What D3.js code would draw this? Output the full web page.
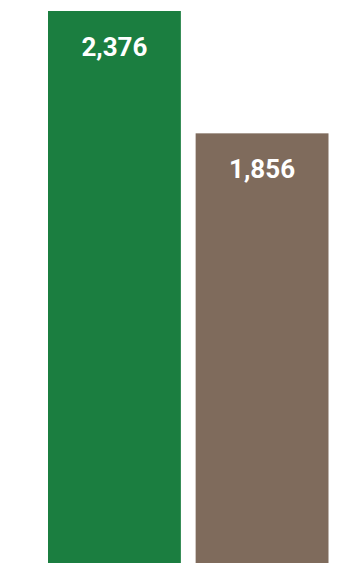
<!DOCTYPE html>
<html>
<head>
<meta charset="utf-8">
<script src="https://cdn.jsdelivr.net/npm/d3@7"></script>
<style>
html,body{margin:0;padding:0;background:#fff;overflow:hidden;}
svg{display:block;}
</style>
</head>
<body>
<svg id="chart" width="361" height="563"></svg>
<script>
const categories = ["A", "B"];
const values = [2376, 1856];
const colors = ["#1b7e40", "#7f6b5c"];

const svg = d3.select("#chart");
const x = d3.scaleBand().domain(categories).range([48, 328.5]).paddingInner(0.1).paddingOuter(0);
const y = d3.scaleLinear().domain([0, 2376]).range([570, 11]);
const fmt = d3.format(",");

const data = categories.map((c, i) => ({c, v: values[i], col: colors[i]}));

svg.selectAll("rect.bar").data(data).join("rect")
  .attr("class", "bar")
  .attr("x", d => x(d.c))
  .attr("width", x.bandwidth())
  .attr("y", d => y(d.v))
  .attr("height", d => y(0) - y(d.v))
  .attr("fill", d => d.col);

svg.selectAll("text.lbl").data(data).join("text")
  .attr("class", "lbl")
  .attr("x", d => x(d.c) + x.bandwidth() / 2)
  .attr("y", d => y(d.v) + 44.5)
  .attr("text-anchor", "middle")
  .attr("fill", "#fff")
  .attr("font-family", "Roboto, sans-serif")
  .attr("font-weight", "bold")
  .attr("font-size", "26px")
  .text(d => fmt(d.v));
</script>
</body>
</html>
